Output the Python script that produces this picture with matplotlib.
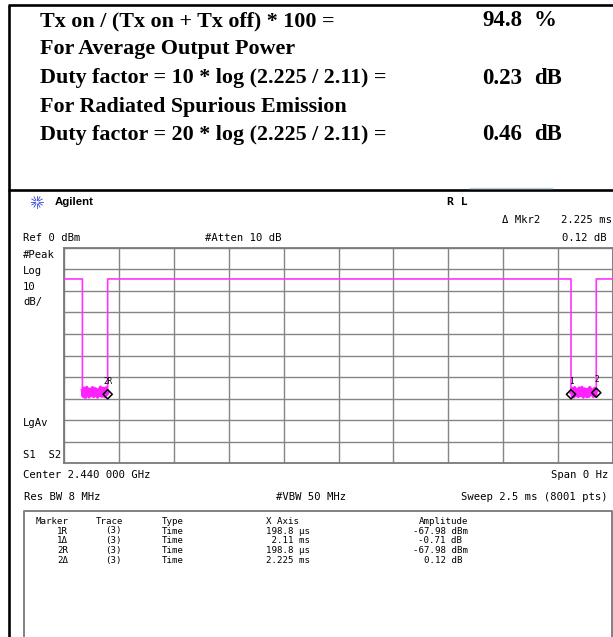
import numpy as np
import matplotlib.pyplot as plt

# ---- data ----
summary_labels = ["Tx on / (Tx on + Tx off) * 100 =",
                  "For Average Output Power",
                  "Duty factor = 10 * log (2.225 / 2.11) =",
                  "For Radiated Spurious Emission",
                  "Duty factor = 20 * log (2.225 / 2.11) ="]
summary_numbers = ["94.8", "", "0.23", "", "0.46"]
summary_units = ["%", "", "dB", "", "dB"]

sweep_us = 2500.0
ref_dbm = 0.0
db_per_div = 10.0
on_level = -14.5
# trace edges (us): falling, rising, falling, rising
edges_us = [83.8, 198.8, 2308.8, 2423.8]
# noise floor readings during the two off periods (dBm)
noise_off1 = [-66.2, -68.9, -65.1, -67.7, -69.4, -66.0, -64.8, -68.1, -67.0, -69.2,
              -65.6, -67.9, -66.4, -68.7, -64.9, -67.3, -69.0, -66.1, -65.4, -68.3,
              -67.5, -69.3, -65.9, -66.8, -68.5, -64.7, -67.1, -68.9, -66.3, -65.2,
              -67.8, -69.1, -66.6, -65.0, -68.0, -67.4]
noise_off2 = [-67.1, -65.3, -68.8, -66.5, -69.2, -64.9, -67.6, -68.4, -65.8, -66.9,
              -69.0, -65.1, -67.9, -68.6, -66.2, -64.8, -67.2, -69.3, -66.0, -65.5,
              -68.2, -67.0, -69.1, -65.7, -66.7, -68.9, -64.9, -67.5, -68.1, -65.9,
              -66.4, -69.0, -67.3, -65.2, -68.5, -66.8]

markers_us = [198.8, 2308.8, 2423.8]
markers_dbm = [-67.98, -67.98, -67.27]
marker_tags = ["2R", "1", "2"]

table_header = ["Marker", "Trace", "Type", "X Axis", "Amplitude"]
table_marker = ["1R", "1\u0394", "2R", "2\u0394"]
table_trace = ["(3)", "(3)", "(3)", "(3)"]
table_type = ["Time", "Time", "Time", "Time"]
table_x = ["198.8 \u00b5s", " 2.11 ms", "198.8 \u00b5s", "2.225 ms"]
table_amp = ["-67.98 dBm", "-0.71 dB ", "-67.98 dBm", "0.12 dB "]

W, H = 613, 637
fig = plt.figure(figsize=(W / 100, H / 100), dpi=100)
bg = fig.add_axes([0, 0, 1, 1])
bg.set_xlim(0, W)
bg.set_ylim(H, 0)
bg.axis("off")

# frame
bg.plot([8.5, 8.5], [5, H], c="k", lw=1.9, solid_capstyle="butt")
bg.plot([8, W], [5, 5], c="k", lw=1.9, solid_capstyle="butt")
bg.plot([8, W], [190, 190], c="k", lw=1.9, solid_capstyle="butt")
bg.plot([470, 552], [187.5, 187.5], c="#b9d4e4", lw=1.0)

# summary text
serif = dict(family="Liberation Serif", weight="bold", va="center")
rows_y = [21, 49, 78, 107, 135]
for lab, num, unit, y in zip(summary_labels, summary_numbers, summary_units, rows_y):
    bg.text(40, y, lab, ha="left", fontsize=15.8, **serif)
    if num:
        bg.text(482, y, num, ha="left", fontsize=16.5, **serif)
        bg.text(534, y, unit, ha="left", fontsize=16.5, **serif)

# analyzer header
mono = dict(family="DejaVu Sans Mono", fontsize=7.6, va="center")
for ang in np.arange(0, 360, 30):
    a = np.deg2rad(ang)
    bg.plot([37 + 2 * np.cos(a), 37 + 6 * np.cos(a)],
            [202 + 2 * np.sin(a), 202 + 6 * np.sin(a)], c="#3344dd", lw=0.6)
bg.text(55, 202, "Agilent", family="Liberation Sans", weight="bold", fontsize=8.2,
        va="center")
bg.text(447, 202, "R L", family="DejaVu Sans Mono", weight="bold", fontsize=8.2,
        va="center")
bg.text(502, 220, "\u0394 Mkr2", ha="left", **mono)
bg.text(612, 220, "2.225 ms", ha="right", **mono)
bg.text(607, 238, "0.12 dB", ha="right", **mono)
bg.text(23, 238, "Ref 0 dBm", ha="left", **mono)
bg.text(205, 238, "#Atten 10 dB", ha="left", **mono)
for lab, y in zip(["#Peak", "Log", "10", "dB/", "LgAv", "S1  S2"],
                  [255, 271, 287, 302, 423, 455]):
    bg.text(23, y, lab, ha="left", **mono)
bg.text(23, 475, "Center 2.440 000 GHz", ha="left", **mono)
bg.text(608, 475, "Span 0 Hz", ha="right", **mono)
bg.text(24, 497, "Res BW 8 MHz", ha="left", **mono)
bg.text(276, 497, "#VBW 50 MHz", ha="left", **mono)
bg.text(608, 497, "Sweep 2.5 ms (8001 pts)", ha="right", **mono)

# marker table
bg.plot([24, 24, 612, 612], [H, 511, 511, H], c="#777777", lw=1.3)
tmono = dict(family="DejaVu Sans Mono", fontsize=6.6, va="center")
col_x = [36, 96, 162, 266, 468]
bg.text(col_x[0], 521, table_header[0], ha="left", **tmono)
bg.text(col_x[1], 521, table_header[1], ha="left", **tmono)
bg.text(col_x[2], 521, table_header[2], ha="left", **tmono)
bg.text(col_x[3], 521, table_header[3], ha="left", **tmono)
bg.text(col_x[4], 521, table_header[4], ha="right", **tmono)
for i in range(len(table_marker)):
    y = 531 + i * 9.7
    bg.text(57, y, table_marker[i], ha="left", **tmono)
    bg.text(105, y, table_trace[i], ha="left", **tmono)
    bg.text(col_x[2], y, table_type[i], ha="left", **tmono)
    bg.text(col_x[3], y, table_x[i], ha="left", **tmono)
    bg.text(col_x[4], y, table_amp[i], ha="right", **tmono)

# graticule
gx0, gx1, gy0, gy1 = 64, 613, 247.7, 463.3
ax = fig.add_axes([gx0 / W, 1 - gy1 / H, (gx1 - gx0) / W, (gy1 - gy0) / H])
ax.set_xlim(0, sweep_us)
ax.set_ylim(ref_dbm - 10 * db_per_div, ref_dbm)
ax.set_xticks(np.arange(0, sweep_us + 1, sweep_us / 10))
ax.set_yticks(np.arange(ref_dbm - 10 * db_per_div, ref_dbm + 1, db_per_div))
ax.tick_params(length=0, labelbottom=False, labelleft=False)
ax.grid(True, color="#858585", lw=1.0)
for sp in ax.spines.values():
    sp.set_color("#7a7a7a")
    sp.set_linewidth(1.3)
ax.set_facecolor("white")

f1, r1, f2, r2 = edges_us
t_n1 = np.linspace(f1, r1, len(noise_off1))
t_n2 = np.linspace(f2, r2, len(noise_off2))
t = np.concatenate([[0, f1], t_n1, [r1, f2], t_n2, [r2, sweep_us]])
v = np.concatenate([[on_level, on_level], noise_off1, [on_level, on_level],
                    noise_off2, [on_level, on_level]])
ax.plot(t, v, c="#ff33ff", lw=1.2, zorder=3)
ax.plot(t_n1, noise_off1, c="#ff22ff", lw=2.4, zorder=3)
ax.plot(t_n2, noise_off2, c="#ff22ff", lw=2.4, zorder=3)

ax.scatter(markers_us, markers_dbm, marker="D", s=22, facecolor="none",
           edgecolor="k", lw=1.1, zorder=4)
for xm, ym, tag in zip(markers_us, markers_dbm, marker_tags):
    ax.text(xm, ym + 6, tag, fontsize=5.5, family="DejaVu Sans Mono",
            ha="center", va="center", zorder=5)

fig.savefig("out.png", dpi=100)
